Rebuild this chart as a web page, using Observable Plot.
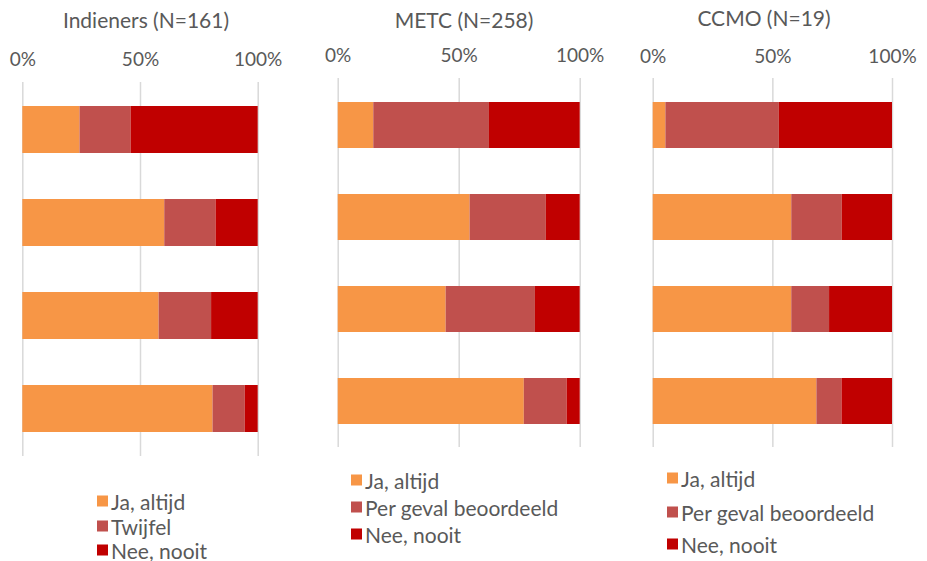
<!DOCTYPE html>
<html>
<head>
<meta charset="utf-8">
<script src="https://cdn.jsdelivr.net/npm/d3@7"></script>
<script src="https://cdn.jsdelivr.net/npm/@observablehq/plot@0.6"></script>
<style>
  html, body { margin: 0; padding: 0; background: #fff; }
  #chart { position: relative; width: 927px; height: 561px; font-family: Lato, "Open Sans", sans-serif; color: #595959; overflow: hidden; }
  .panel { position: absolute; top: 0; }
  .title { position: absolute; font-size: 21px; white-space: nowrap; transform: translate(-50%, -50%); }
  .leg { position: absolute; font-size: 21px; white-space: nowrap; display: flex; align-items: center; transform: translateY(-50%); }
  .sw { width: 11px; height: 11px; margin-right: 3px; display: inline-block; }
  svg text { fill: #595959; }
</style>
</head>
<body>
<div id="chart"></div>
<script>
// ---- data ----
const questions = ["Vraag 1", "Vraag 2", "Vraag 3", "Vraag 4"];
const panelTitles = ["Indieners (N=161)", "METC (N=258)", "CCMO (N=19)"];
const seriesIndieners = ["Ja, altijd", "Twijfel", "Nee, nooit"];
const seriesCommissie = ["Ja, altijd", "Per geval beoordeeld", "Nee, nooit"];
const colors = ["#F79646", "#C0504D", "#C00000"];
const tickValues = [0, 0.5, 1];

// percentages per question: [ja, middel, nee]
const indienersJa     = [24.3, 60.3, 57.9, 80.8];
const indienersMiddel = [21.7, 21.8, 22.3, 13.7];
const indienersNee    = [54.0, 17.9, 19.8, 5.5];

const metcJa     = [14.7, 54.5, 44.6, 76.9];
const metcMiddel = [47.8, 31.5, 36.9, 17.7];
const metcNee    = [37.5, 14.0, 18.5, 5.4];

const ccmoJa     = [5.3, 57.9, 57.9, 68.4];
const ccmoMiddel = [47.4, 21.1, 15.8, 10.5];
const ccmoNee    = [47.3, 21.0, 26.3, 21.1];

// ---- layout ----
const panels = [
  {title: panelTitles[0], series: seriesIndieners, vals: [indienersJa, indienersMiddel, indienersNee],
   left: 0, width: 300, height: 460, mL: 22.3, mR: 42.3, mT: 82, mB: 4, tickPad: 17, titleX: 146, titleY: 18.5,
   legX: 97, legY: [501, 525.5, 550]},
  {title: panelTitles[1], series: seriesCommissie, vals: [metcJa, metcMiddel, metcNee],
   left: 310, width: 300, height: 451, mL: 27.7, mR: 30.3, mT: 78, mB: 4, tickPad: 17, titleX: 464, titleY: 18.5,
   legX: 351, legY: [480, 507, 534]},
  {title: panelTitles[2], series: seriesCommissie, vals: [ccmoJa, ccmoMiddel, ccmoNee],
   left: 620, width: 307, height: 451, mL: 32.7, mR: 35, mT: 78, mB: 4, tickPad: 16, titleX: 764, titleY: 17,
   legX: 667, legY: [478, 512, 544]}
];

const chart = document.getElementById("chart");

panels.forEach(p => {
  const data = [];
  questions.forEach((q, qi) => {
    p.series.forEach((s, si) => {
      data.push({question: q, series: s, order: si, value: p.vals[si][qi] / 100});
    });
  });

  const svg = Plot.plot({
    width: p.width,
    height: p.height,
    marginLeft: p.mL,
    marginRight: p.mR,
    marginTop: p.mT,
    marginBottom: p.mB,
    style: {fontFamily: "Lato, 'Open Sans', sans-serif", fontSize: "19px", color: "#595959", background: "transparent"},
    x: {domain: [0, 1], label: null},
    y: {domain: questions, paddingInner: 0.5, paddingOuter: 0.25, axis: null},
    color: {domain: p.series, range: colors},
    marks: [
      Plot.ruleX(tickValues, {stroke: "#d9d9d9", strokeWidth: 1.5}),
      Plot.barX(data, Plot.stackX({x: "value", y: "question", fill: "series", order: "order"})),
      Plot.axisX({anchor: "top", ticks: tickValues, tickFormat: d3.format(".0%"), tickSize: 0, tickPadding: p.tickPad, fontSize: 19, label: null})
    ]
  });
  const wrap = document.createElement("div");
  wrap.className = "panel";
  wrap.style.left = p.left + "px";
  wrap.appendChild(svg);
  chart.appendChild(wrap);

  const t = document.createElement("div");
  t.className = "title";
  t.style.left = p.titleX + "px";
  t.style.top = p.titleY + "px";
  t.textContent = p.title;
  chart.appendChild(t);

  p.series.forEach((s, si) => {
    const l = document.createElement("div");
    l.className = "leg";
    l.style.left = p.legX + "px";
    l.style.top = p.legY[si] + "px";
    const sw = document.createElement("span");
    sw.className = "sw";
    sw.style.background = colors[si];
    l.appendChild(sw);
    l.appendChild(document.createTextNode(s));
    chart.appendChild(l);
  });
});
</script>
</body>
</html>
